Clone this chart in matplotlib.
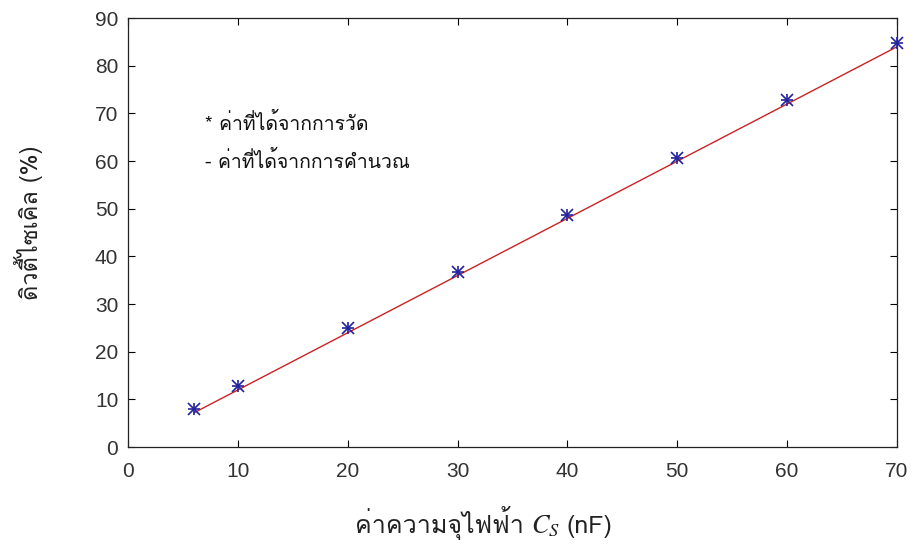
import matplotlib
matplotlib.use("Agg")
import matplotlib.pyplot as plt
from matplotlib import font_manager

# ---- data ----
cs_nf = [6, 10, 20, 30, 40, 50, 60, 70]
duty_measured = [8.1, 12.8, 24.9, 36.7, 48.8, 60.6, 72.8, 84.8]
duty_calc = [7.2, 12.0, 24.0, 36.0, 48.0, 60.0, 72.0, 84.0]
xticks = [0, 10, 20, 30, 40, 50, 60, 70]
yticks = [0, 10, 20, 30, 40, 50, 60, 70, 80, 90]

legend_meas = "* ค่าที่ได้จากการวัด"
legend_calc = "- ค่าที่ได้จากการคำนวณ"
xlabel_thai = "ค่าความจุไฟฟ้า"
xlabel_unit = "(nF)"
ylabel = "ดิวตี้ไซเคิล (%)"

# ---- find a font with Thai glyphs ----
thai_family = None
try:
    from fontTools.ttLib import TTFont
    for f in font_manager.fontManager.ttflist:
        try:
            tt = TTFont(f.fname, fontNumber=0, lazy=True)
            cmap = tt.getBestCmap()
            if cmap and 0x0E04 in cmap and 0x0E27 in cmap:
                thai_family = f.name
                break
        except Exception:
            continue
except Exception:
    pass
thai_fams = ([thai_family] if thai_family else []) + ["Noto Sans", "DejaVu Sans"]

fig = plt.figure(figsize=(9.17, 5.5), dpi=100)
ax = fig.add_axes([0.1396, 0.187, 0.8386, 0.78])

ax.plot(cs_nf, duty_calc, color="#cc2222", lw=1.0, zorder=2)
for mk in ["+", "x"]:
    ax.plot(cs_nf, duty_measured, ls="none", marker=mk, ms=9, mew=1.2,
            color="#22229e", zorder=3, clip_on=False)

ax.set_xlim(0, 70)
ax.set_ylim(0, 90)
ax.set_xticks(xticks)
ax.set_yticks(yticks)
ax.tick_params(direction="in", length=5, width=0.8, top=True, right=True,
               labelsize=15, labelcolor="#333333")
ax.tick_params(axis="x", pad=11)
ax.tick_params(axis="y", pad=7)
for lab in ax.get_xticklabels() + ax.get_yticklabels():
    lab.set_family(["Liberation Sans", "DejaVu Sans"])
for s in ax.spines.values():
    s.set_linewidth(0.9)
    s.set_color("#222222")

ax.text(0.100, 0.755, legend_meas, transform=ax.transAxes, fontsize=14,
        family=thai_fams, color="#111111", va="center")
ax.text(0.100, 0.665, legend_calc, transform=ax.transAxes, fontsize=14,
        family=thai_fams, color="#111111", va="center")

# x label: Thai + italic C_S + (nF), laid out with the renderer
fig.canvas.draw()
renderer = fig.canvas.get_renderer()
yb = 0.030
t1 = fig.text(0, yb, xlabel_thai, fontsize=18, family=thai_fams,
              ha="left", va="baseline", color="#222222")
t2 = fig.text(0, yb, r"$\mathit{C}_{\mathit{S}}$", fontsize=19,
              ha="left", va="baseline", color="#222222", math_fontfamily="stix")
t3 = fig.text(0, yb, xlabel_unit, fontsize=18, family=thai_fams,
              ha="left", va="baseline", color="#222222")
W = fig.bbox.width
gap = 7.0
w1 = t1.get_window_extent(renderer).width
w2 = t2.get_window_extent(renderer).width
w3 = t3.get_window_extent(renderer).width
total = w1 + gap + w2 + gap + w3
start = 0.5273 * W - total / 2
t1.set_x(start / W)
t2.set_x((start + w1 + gap) / W)
t3.set_x((start + w1 + gap + w2 + gap) / W)

fig.text(0.031, 0.595, ylabel, fontsize=17, family=thai_fams, rotation=90,
         ha="center", va="center", color="#222222")

fig.savefig("out.png", dpi=100)
